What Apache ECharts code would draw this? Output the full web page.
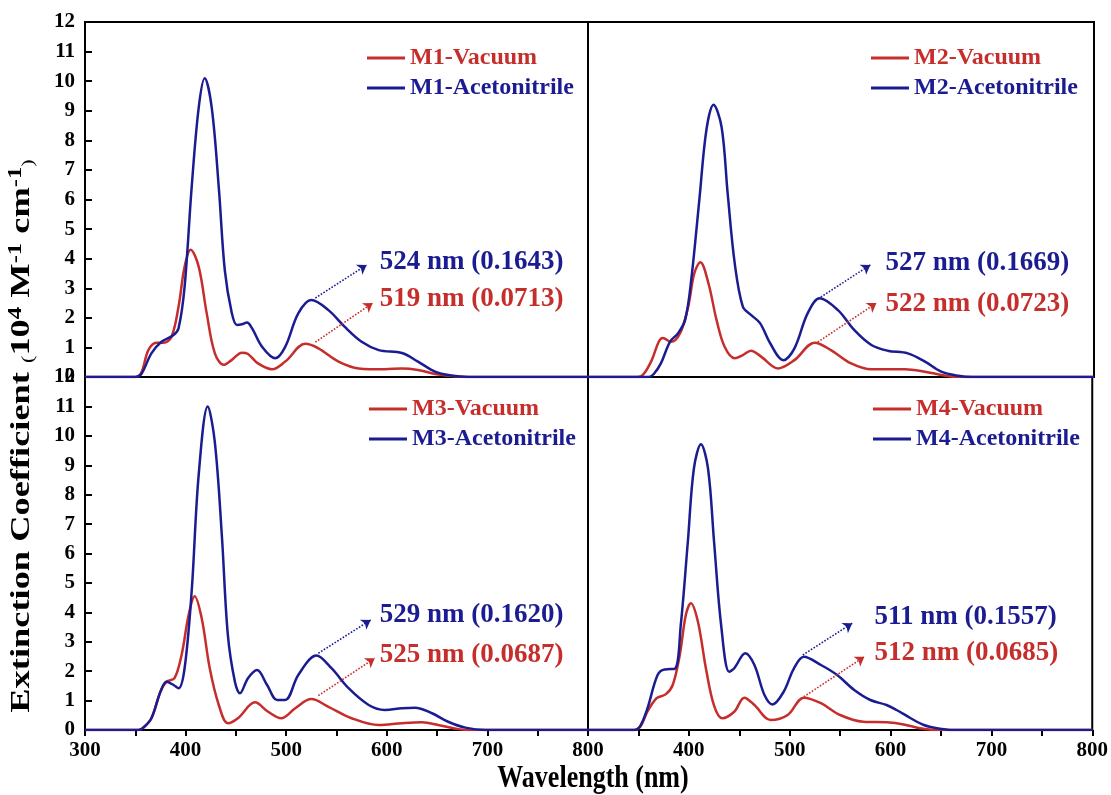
<!DOCTYPE html>
<html>
<head>
<meta charset="utf-8">
<script src="https://cdn.jsdelivr.net/npm/echarts@6/dist/echarts.min.js"></script>
<style>
  html, body { margin: 0; padding: 0; background: #fff; }
  #main { width: 1111px; height: 795px; }
</style>
</head>
<body>
<div id="main"></div>
<script>
// wavelength (nm), extinction coefficient (10^4 M-1 cm-1)
var m1Vacuum = [[300,0],[350,0],[356,0.15],[363,0.91],[371,1.16],[378,1.16],[386,1.36],[393,2.38],[399,3.73],[405,4.3],[413,3.73],[421,2.15],[429,0.81],[438,0.41],[446,0.58],[456,0.82],[462,0.78],[472,0.46],[486,0.26],[499,0.52],[519,1.12],[532,0.97],[552,0.52],[572,0.29],[598,0.26],[615,0.29],[631,0.24],[648,0.1],[664,0.03],[680,0],[800,0]];
var m1Acetonitrile = [[300,0],[350,0],[356,0.1],[366,0.8],[376,1.19],[388,1.42],[393,1.65],[399,3.05],[406,6.4],[413,9.1],[419,10.1],[426,9.1],[433,6.4],[439,3.6],[446,2.15],[451,1.76],[456,1.78],[461,1.84],[466,1.65],[476,1.02],[489,0.63],[499,1.02],[512,2.15],[525,2.6],[542,2.26],[558,1.7],[575,1.19],[592,0.91],[615,0.81],[631,0.52],[648,0.18],[664,0.05],[681,0],[800,0]];
var m2Vacuum = [[300,0],[349,0],[355,0.1],[363,0.57],[370,1.2],[374,1.32],[382,1.19],[391,1.48],[399,2.38],[405,3.5],[411,3.88],[419,3.17],[427,1.93],[435,1.02],[445,0.63],[453,0.74],[461,0.89],[471,0.69],[488,0.29],[504,0.57],[524,1.16],[540,0.91],[560,0.46],[580,0.26],[613,0.26],[633,0.18],[649,0.07],[666,0],[800,0]];
var m2Acetonitrile = [[300,0],[360,0],[365,0.1],[372,0.46],[381,1.19],[389,1.48],[396,1.93],[402,3.28],[410,5.98],[417,8.35],[424,9.2],[432,8.45],[438,6.21],[445,3.84],[453,2.38],[461,2.1],[470,1.82],[480,1.14],[493,0.57],[504,0.97],[517,2.15],[529,2.66],[547,2.26],[563,1.59],[580,1.08],[596,0.89],[616,0.8],[633,0.52],[649,0.18],[666,0.04],[680,0],[800,0]];
var m3Vacuum = [[300,0],[353,0],[358,0.08],[366,0.4],[375,1.3],[381,1.64],[389,1.76],[396,2.55],[403,3.91],[409,4.55],[416,3.8],[424,2.1],[433,0.85],[442,0.23],[452,0.4],[469,0.94],[482,0.62],[495,0.4],[509,0.74],[525,1.05],[542,0.79],[565,0.4],[592,0.17],[615,0.23],[635,0.26],[651,0.17],[671,0.03],[685,0],[800,0]];
var m3Acetonitrile = [[300,0],[353,0],[358,0.08],[366,0.4],[375,1.3],[381,1.64],[388,1.53],[393,1.42],[399,2.1],[406,4.7],[413,8.67],[422,11.0],[429,9.8],[436,6.63],[442,3.23],[449,1.64],[454,1.25],[462,1.76],[471,2.04],[481,1.53],[491,1.02],[499,1.02],[512,1.87],[530,2.53],[545,2.1],[562,1.42],[582,0.85],[598,0.68],[615,0.74],[628,0.76],[645,0.57],[661,0.28],[678,0.08],[698,0],[800,0]];
var m4Vacuum = [[300,0],[346,0],[352,0.12],[359,0.63],[368,1.08],[377,1.21],[384,1.53],[391,2.55],[397,3.91],[402,4.31],[409,3.68],[417,2.08],[425,0.83],[433,0.4],[445,0.62],[455,1.1],[465,0.85],[481,0.34],[498,0.51],[514,1.1],[531,0.91],[550,0.51],[573,0.28],[596,0.26],[613,0.19],[629,0.06],[646,0],[800,0]];
var m4Acetonitrile = [[300,0],[346,0],[352,0.15],[359,0.74],[369,1.87],[376,2.06],[386,2.08],[392,3.57],[399,6.4],[405,8.89],[412,9.71],[419,8.89],[425,6.4],[432,3.57],[440,1.98],[445,2.1],[456,2.61],[465,2.21],[475,1.19],[483,0.87],[494,1.3],[504,2.08],[514,2.49],[531,2.21],[547,1.87],[564,1.36],[580,1.02],[596,0.85],[606,0.68],[620,0.4],[633,0.17],[646,0.06],[662,0],[800,0]];

var panelNames = ['M1', 'M2', 'M3', 'M4'];
var vacuumData = [m1Vacuum, m2Vacuum, m3Vacuum, m4Vacuum];
var acetonitrileData = [m1Acetonitrile, m2Acetonitrile, m3Acetonitrile, m4Acetonitrile];

// peak notes
var notesBlue = ['524 nm (0.1643)', '527 nm (0.1669)', '529 nm (0.1620)', '511 nm (0.1557)'];
var notesRed = ['519 nm (0.0713)', '522 nm (0.0723)', '525 nm (0.0687)', '512 nm (0.0685)'];
var noteBlueAt = [[593,3.89],[594,3.85],[593,3.91],[584,3.85]];
var noteRedAt = [[593,2.64],[594,2.45],[593,2.55],[584,2.61]];
var arrowBlue = [[[529,2.67],[580,3.79]], [[530,2.7],[579,3.79]], [[532,2.61],[584,3.74]], [[513,2.55],[562,3.63]]];
var arrowRed = [[[529,1.18],[586,2.5]], [[527,1.18],[585,2.5]], [[532,1.17],[588,2.44]], [[514,1.13],[574,2.49]]];

var xTicks = [300, 800, 100];
var yTicks = [0, 12, 1];

var RED = '#c62e2c';
var BLUE = '#1b1c92';
var FONT = '"Liberation Serif", "Times New Roman", serif';

var gridPos = [
    {left: 85, top: 22, width: 503, height: 355},
    {left: 588, top: 22, width: 506, height: 355},
    {left: 85, top: 377, width: 503, height: 353},
    {left: 588, top: 377, width: 506, height: 353}
];
var legendPos = [[362, 40], [866, 40], [364, 391], [868, 391]];

var grids = [], xAxes = [], yAxes = [], series = [], legends = [];

gridPos.forEach(function (g, i) {
    var bottomRow = i >= 2;
    var leftCol = i % 2 === 0;
    grids.push({
        left: g.left, top: g.top, width: g.width, height: g.height,
        show: true, borderColor: '#000', borderWidth: 2, backgroundColor: 'transparent'
    });
    xAxes.push({
        type: 'value', gridIndex: i,
        min: xTicks[0], max: xTicks[1], interval: xTicks[2],
        axisLine: {show: true, lineStyle: {color: '#000', width: 2}},
        axisTick: {show: bottomRow, length: 6, lineStyle: {color: '#000', width: 2}},
        minorTick: {show: bottomRow, splitNumber: 2, length: 6, lineStyle: {color: '#000', width: 2}},
        axisLabel: {
            show: bottomRow, showMinLabel: leftCol, margin: 10,
            color: '#000', fontFamily: FONT, fontWeight: 'bold', fontSize: 21
        },
        splitLine: {show: false}
    });
    yAxes.push({
        type: 'value', gridIndex: i,
        min: yTicks[0], max: yTicks[1], interval: yTicks[2],
        axisLine: {show: true, lineStyle: {color: '#000', width: 2}},
        axisTick: {show: leftCol, inside: true, length: 7, lineStyle: {color: '#000', width: 2}},
        axisLabel: {
            show: leftCol, margin: 10,
            color: '#000', fontFamily: FONT, fontWeight: 'bold', fontSize: 21
        },
        splitLine: {show: false}
    });

    var vacName = panelNames[i] + '-Vacuum';
    var acnName = panelNames[i] + '-Acetonitrile';

    series.push({
        name: vacName, type: 'line', xAxisIndex: i, yAxisIndex: i,
        data: vacuumData[i], smooth: 0.35, showSymbol: false,
        lineStyle: {color: RED, width: 2.5}, itemStyle: {color: RED},
        markLine: {
            silent: true, symbol: ['none', 'arrow'], symbolSize: 9,
            lineStyle: {color: RED, type: 'dotted', width: 1.6},
            label: {show: false},
            data: [[{coord: arrowRed[i][0]}, {coord: arrowRed[i][1]}]]
        },
        markPoint: {
            silent: true, symbol: 'circle', symbolSize: 0,
            label: {
                show: true, position: 'right', distance: 0, formatter: notesRed[i],
                color: RED, fontFamily: FONT, fontWeight: 'bold', fontSize: 27
            },
            data: [{coord: noteRedAt[i]}]
        }
    });
    series.push({
        name: acnName, type: 'line', xAxisIndex: i, yAxisIndex: i,
        data: acetonitrileData[i], smooth: 0.35, showSymbol: false,
        lineStyle: {color: BLUE, width: 2.5}, itemStyle: {color: BLUE},
        markLine: {
            silent: true, symbol: ['none', 'arrow'], symbolSize: 9,
            lineStyle: {color: BLUE, type: 'dotted', width: 1.6},
            label: {show: false},
            data: [[{coord: arrowBlue[i][0]}, {coord: arrowBlue[i][1]}]]
        },
        markPoint: {
            silent: true, symbol: 'circle', symbolSize: 0,
            label: {
                show: true, position: 'right', distance: 0, formatter: notesBlue[i],
                color: BLUE, fontFamily: FONT, fontWeight: 'bold', fontSize: 27
            },
            data: [{coord: noteBlueAt[i]}]
        }
    });

    legends.push({
        left: legendPos[i][0], top: legendPos[i][1],
        orient: 'vertical', itemGap: 4, selectedMode: false,
        icon: 'rect', itemWidth: 38, itemHeight: 3,
        textStyle: {fontFamily: FONT, fontWeight: 'bold', fontSize: 24, lineHeight: 26},
        data: [
            {name: vacName, textStyle: {color: RED}},
            {name: acnName, textStyle: {color: BLUE}}
        ]
    });
});

var chart = echarts.init(document.getElementById('main'));
chart.setOption({
    animation: false,
    backgroundColor: '#fff',
    grid: grids,
    xAxis: xAxes,
    yAxis: yAxes,
    legend: legends,
    series: series,
    graphic: [
        {
            type: 'text', x: 22, y: 436, rotation: Math.PI / 2, scaleX: 1.3,
            style: {
                text: '{b|Extinction Coefficient }{p|(}{b|10}{s|4}{b| M}{s|-1}{b| cm}{s|-1}{p|)}',
                align: 'center', verticalAlign: 'middle', fill: '#000',
                rich: {
                    b: {fontFamily: FONT, fontWeight: 'bold', fontSize: 28, lineHeight: 30, fill: '#000'},
                    s: {fontFamily: FONT, fontWeight: 'bold', fontSize: 19, lineHeight: 18, verticalAlign: 'top', fill: '#000'},
                    p: {fontFamily: FONT, fontSize: 17, lineHeight: 20, verticalAlign: 'bottom', fill: '#000'}
                }
            }
        },
        {
            type: 'text', x: 593, y: 779, scaleY: 1.25,
            style: {
                text: 'Wavelength (nm)', align: 'center', verticalAlign: 'middle',
                fill: '#000', font: 'bold 26px ' + FONT
            }
        }
    ]
});
</script>
</body>
</html>
